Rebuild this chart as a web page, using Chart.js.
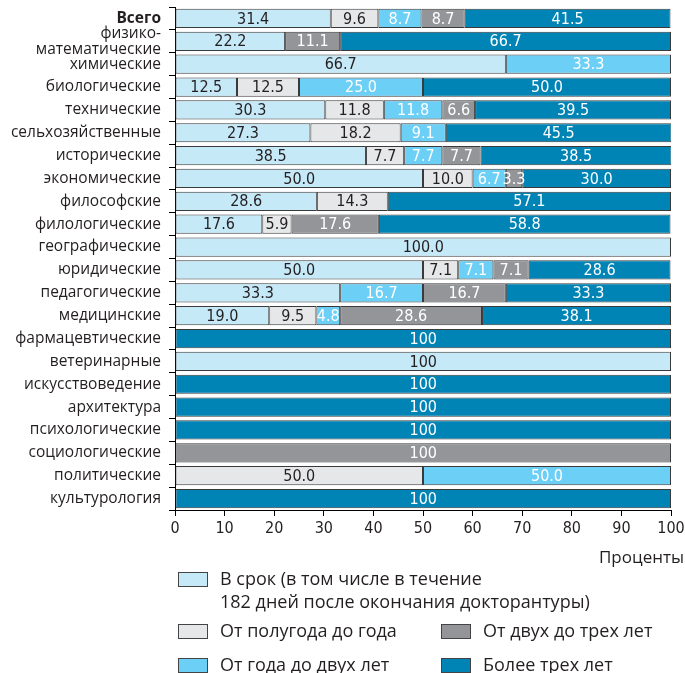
<!DOCTYPE html>
<html lang="ru">
<head>
<meta charset="UTF-8">
<title>Сроки защиты диссертаций</title>
<style>
body { margin: 0; background: #fff; font-family: 'Open Sans', sans-serif; color: #231f20; }
#chartBox { position: absolute; left: 0; top: 0; width: 685px; height: 570px; }
#legend { position: absolute; left: 0; top: 0; width: 685px; height: 673px; pointer-events: none; }
.item { position: absolute; font-size: 18px; line-height: 23px; white-space: nowrap; }
.swatch { position: absolute; width: 28px; height: 13px; border: 1px solid #444; }
#xTitle { position: absolute; right: 1px; top: 545px; font-size: 17px; }
</style>
</head>
<body>
<div id="chartBox"><canvas id="chart"></canvas></div>
<div id="legend"></div>
<div id="xTitle">Проценты</div>

<script src="https://cdn.jsdelivr.net/npm/chart.js"></script>
<script>
// categories, top to bottom
const categories = [
  'Всего', ['физико-', 'математические'], 'химические', 'биологические', 'технические',
  'сельхозяйственные', 'исторические', 'экономические', 'философские', 'филологические',
  'географические', 'юридические', 'педагогические', 'медицинские', 'фармацевтические',
  'ветеринарные', 'искусствоведение', 'архитектура', 'психологические', 'социологические',
  'политические', 'культурология'
];

// percent shares per series
const onTime      = [31.4, 22.2, 66.7, 12.5, 30.3, 27.3, 38.5, 50.0, 28.6, 17.6, 100.0, 50.0, 33.3, 19.0, 0, 100, 0, 0, 0, 0, 0, 0];
const halfToOne   = [9.6, 0, 0, 12.5, 11.8, 18.2, 7.7, 10.0, 14.3, 5.9, 0, 7.1, 0, 9.5, 0, 0, 0, 0, 0, 0, 50.0, 0];
const oneToTwo    = [8.7, 0, 33.3, 25.0, 11.8, 9.1, 7.7, 6.7, 0, 0, 0, 7.1, 16.7, 4.8, 0, 0, 0, 0, 0, 0, 50.0, 0];
const twoToThree  = [8.7, 11.1, 0, 0, 6.6, 0, 7.7, 3.3, 0, 17.6, 0, 7.1, 16.7, 28.6, 0, 0, 0, 0, 0, 100, 0, 0];
const overThree   = [41.5, 66.7, 0, 50.0, 39.5, 45.5, 38.5, 30.0, 57.1, 58.8, 0, 28.6, 33.3, 38.1, 100, 0, 100, 100, 100, 0, 0, 100];

// rows where 100 is printed without a decimal
const plainHundredRows = [14, 15, 16, 17, 18, 19, 21];

const xTicks = [0, 10, 20, 30, 40, 50, 60, 70, 80, 90, 100];

const seriesNames = [
  ['В  срок (в том числе в течение', '182 дней после окончания докторантуры)'],
  ['От полугода до года'],
  ['От года до двух лет'],
  ['От двух до трех лет'],
  ['Более трех лет']
];
const seriesData = [onTime, halfToOne, oneToTwo, twoToThree, overThree];
const colors = ['#c6e9f8', '#e6e7e8', '#6ccff6', '#939598', '#0084b6'];
const labelColors = ['#231f20', '#231f20', '#ffffff', '#ffffff', '#ffffff'];

const numFont = '"Liberation Sans Narrow", "DejaVu Sans Condensed", sans-serif';
const textFont = '"Open Sans", sans-serif';

// value labels in the middle of each segment
const valueLabels = {
  id: 'valueLabels',
  afterDatasetsDraw(chart) {
    const ctx = chart.ctx;
    ctx.save();
    ctx.font = '16px ' + numFont;
    ctx.textAlign = 'center';
    ctx.textBaseline = 'middle';
    chart.data.datasets.forEach((ds, di) => {
      chart.getDatasetMeta(di).data.forEach((bar, i) => {
        const v = ds.data[i];
        if (!v) return;
        const c = bar.getCenterPoint();
        const txt = (v === 100 && plainHundredRows.includes(i)) ? '100' : v.toFixed(1);
        ctx.fillStyle = labelColors[di];
        ctx.fillText(txt, c.x, c.y + 1);
      });
    });
    ctx.restore();
  }
};

new Chart(document.getElementById('chart'), {
  type: 'bar',
  data: {
    labels: categories,
    datasets: seriesData.map((d, i) => ({
      label: seriesNames[i].join(' '),
      data: d,
      backgroundColor: colors[i],
      borderColor: '#3a3a3a',
      borderWidth: 1,
      borderSkipped: false,
      barPercentage: 0.84,
      categoryPercentage: 1
    }))
  },
  options: {
    indexAxis: 'y',
    responsive: true,
    maintainAspectRatio: false,
    animation: false,
    layout: { padding: { top: 7, right: 14, left: 0, bottom: 0 } },
    plugins: { legend: { display: false }, tooltip: { enabled: false } },
    scales: {
      x: {
        stacked: true,
        min: 0,
        max: 100,
        afterBuildTicks: s => { s.ticks = xTicks.map(v => ({ value: v })); },
        afterFit: s => { s.height = 60; s.paddingLeft = 0; s.paddingRight = 0; },
        grid: { drawOnChartArea: false, tickLength: 6, color: '#000' },
        border: { color: '#000' },
        ticks: { color: '#231f20', padding: 3, font: { family: numFont, size: 16 } }
      },
      y: {
        stacked: true,
        afterFit: s => { s.width = 175; s.paddingTop = 0; s.paddingBottom = 0; },
        grid: { drawOnChartArea: false, offset: true, tickLength: 6, color: '#000' },
        border: { color: '#000' },
        ticks: {
          color: '#231f20',
          padding: 8,
          autoSkip: false,
          font: c => ({ family: textFont, size: 15.5, weight: c.index === 0 ? 'bold' : 'normal', lineHeight: 1.05 })
        }
      }
    }
  },
  plugins: [valueLabels]
});

// html legend below the chart
const legendPos = [
  { x: 178, y: 567 }, { x: 178, y: 619 }, { x: 178, y: 653 },
  { x: 441, y: 619 }, { x: 441, y: 653 }
];
const legend = document.getElementById('legend');
seriesNames.forEach((lines, i) => {
  const p = legendPos[i];
  const sw = document.createElement('div');
  sw.className = 'swatch';
  sw.style.left = p.x + 'px';
  sw.style.top = (p.y + 5) + 'px';
  sw.style.background = colors[i];
  legend.appendChild(sw);
  const t = document.createElement('div');
  t.className = 'item';
  t.style.left = (p.x + 42) + 'px';
  t.style.top = p.y + 'px';
  t.innerHTML = lines.join('<br>');
  legend.appendChild(t);
});
</script>
</body>
</html>
